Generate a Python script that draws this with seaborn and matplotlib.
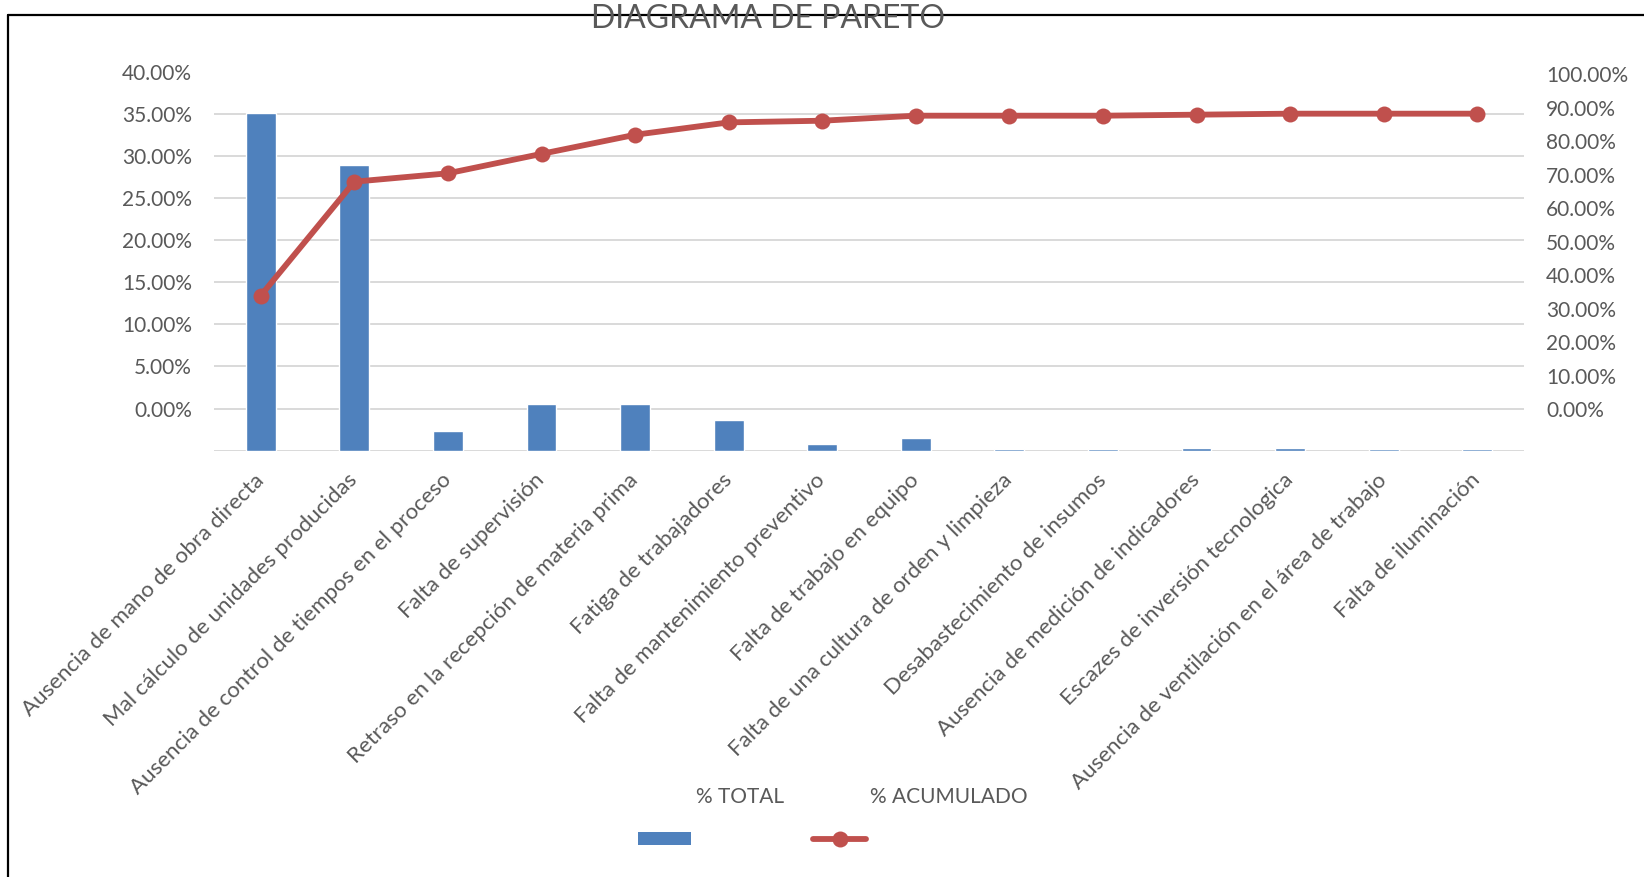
import numpy as np
import matplotlib
matplotlib.use("Agg")
import matplotlib.pyplot as plt
import seaborn as sns
from matplotlib.lines import Line2D
from matplotlib.patches import Patch

# data
categorias = [
    "Ausencia de mano de obra directa",
    "Mal cálculo de unidades producidas",
    "Ausencia de control de tiempos en el proceso",
    "Falta de supervisión",
    "Retraso en la recepción de materia prima",
    "Fatiga de trabajadores",
    "Falta de mantenimiento preventivo",
    "Falta de trabajo en equipo",
    "Falta de una cultura de orden y limpieza",
    "Desabastecimiento de insumos",
    "Ausencia de medición de indicadores",
    "Escazes de inversión tecnologica",
    "Ausencia de ventilación en el área de trabajo",
    "Falta de iluminación",
]
# bar heights measured from the category axis
pct_total = [40.1, 33.9, 2.3, 5.5, 5.5, 3.7, 0.8, 1.5, 0.2, 0.2, 0.3, 0.3, 0.2, 0.2]
# cumulative line as read on the right axis
pct_acumulado = [33.9, 67.9, 70.4, 76.2, 81.9, 85.6, 86.1, 87.6, 87.6, 87.6, 87.9, 88.2, 88.2, 88.2]

# the left axis labels in the original sit one step (5%) above the bars' zero
left_ticks = np.arange(0, 50, 5)
left_labels = [""] + [f"{v - 5:.2f}%" for v in left_ticks[1:]]
right_ticks = np.arange(0, 110, 10)
right_labels = [f"{v:.2f}%" for v in right_ticks]

AZUL = "#4F81BD"
ROJO = "#C0504D"
GRIS = "#595959"

sns.set_style("white")
plt.rcParams["font.family"] = ["Lato", "DejaVu Sans"]

fig = plt.figure(figsize=(16.44, 8.77), dpi=100)
ax = fig.add_axes([214 / 1644, 1 - 450.7 / 877, (1524 - 214) / 1644, (450.7 - 71.8) / 877])

sns.barplot(x=categorias, y=pct_total, color=AZUL, saturation=1, width=0.32, ax=ax)
ax.set_xlim(-0.5, len(categorias) - 0.5)
ax.set_ylim(0, 45)
ax.set_yticks(left_ticks)
ax.set_yticklabels(left_labels)
ax.set_axisbelow(True)
ax.grid(axis="y", color="#D9D9D9", lw=1.4)
ax.get_ygridlines()[-1].set_visible(False)
ax.tick_params(axis="y", length=0, pad=16, labelsize=15, labelcolor=GRIS)
ax.tick_params(axis="x", length=0, pad=19, labelsize=16, labelcolor=GRIS)
for lbl in ax.get_xticklabels():
    lbl.set_rotation(45)
    lbl.set_ha("right")
    lbl.set_va("center")
    lbl.set_rotation_mode("anchor")
ax.set_xlabel("")
ax.set_ylabel("")
for s in ax.spines.values():
    s.set_visible(False)

ax2 = ax.twinx()
sns.lineplot(x=np.arange(len(categorias)), y=pct_acumulado, color=ROJO, lw=4.2,
             marker="o", markersize=11.5, markeredgewidth=0, ax=ax2)
ax2.set_ylim(-12.4, 100.7)
ax2.set_yticks(right_ticks)
ax2.set_yticklabels(right_labels)
ax2.tick_params(axis="y", length=0, pad=16, labelsize=15, labelcolor=GRIS)
ax2.grid(False)
ax2.set_ylabel("")
for s in ax2.spines.values():
    s.set_visible(False)

fig.text(768 / 1644, 1 - 19 / 877, "DIAGRAMA DE PARETO", ha="center", va="center",
         fontsize=23, color=GRIS)

# legend: handles below, labels above as in the original
handles = [Patch(facecolor=AZUL, edgecolor="none"),
           Line2D([], [], color=ROJO, lw=4.2, marker="o", markersize=11.5, markeredgewidth=0)]
fig.legend(handles, ["", ""], ncol=2, loc="center", bbox_to_anchor=(752 / 1644, 1 - 840 / 877),
           frameon=False, fontsize=15, handlelength=2.5, handleheight=0.6,
           handletextpad=0, columnspacing=5.9)
fig.text(740 / 1644, 1 - 797 / 877, "% TOTAL", ha="center", va="center", fontsize=15, color=GRIS)
fig.text(949 / 1644, 1 - 797 / 877, "% ACUMULADO", ha="center", va="center", fontsize=15, color=GRIS)

# frame lines at left and top edges
fig.add_artist(Line2D([8 / 1644, 8 / 1644], [0, 1 - 15 / 877], transform=fig.transFigure,
                      color="black", lw=1.6))
fig.add_artist(Line2D([8 / 1644, 1], [1 - 15 / 877, 1 - 15 / 877], transform=fig.transFigure,
                      color="black", lw=1.6))

fig.savefig("out.png", dpi=100)
